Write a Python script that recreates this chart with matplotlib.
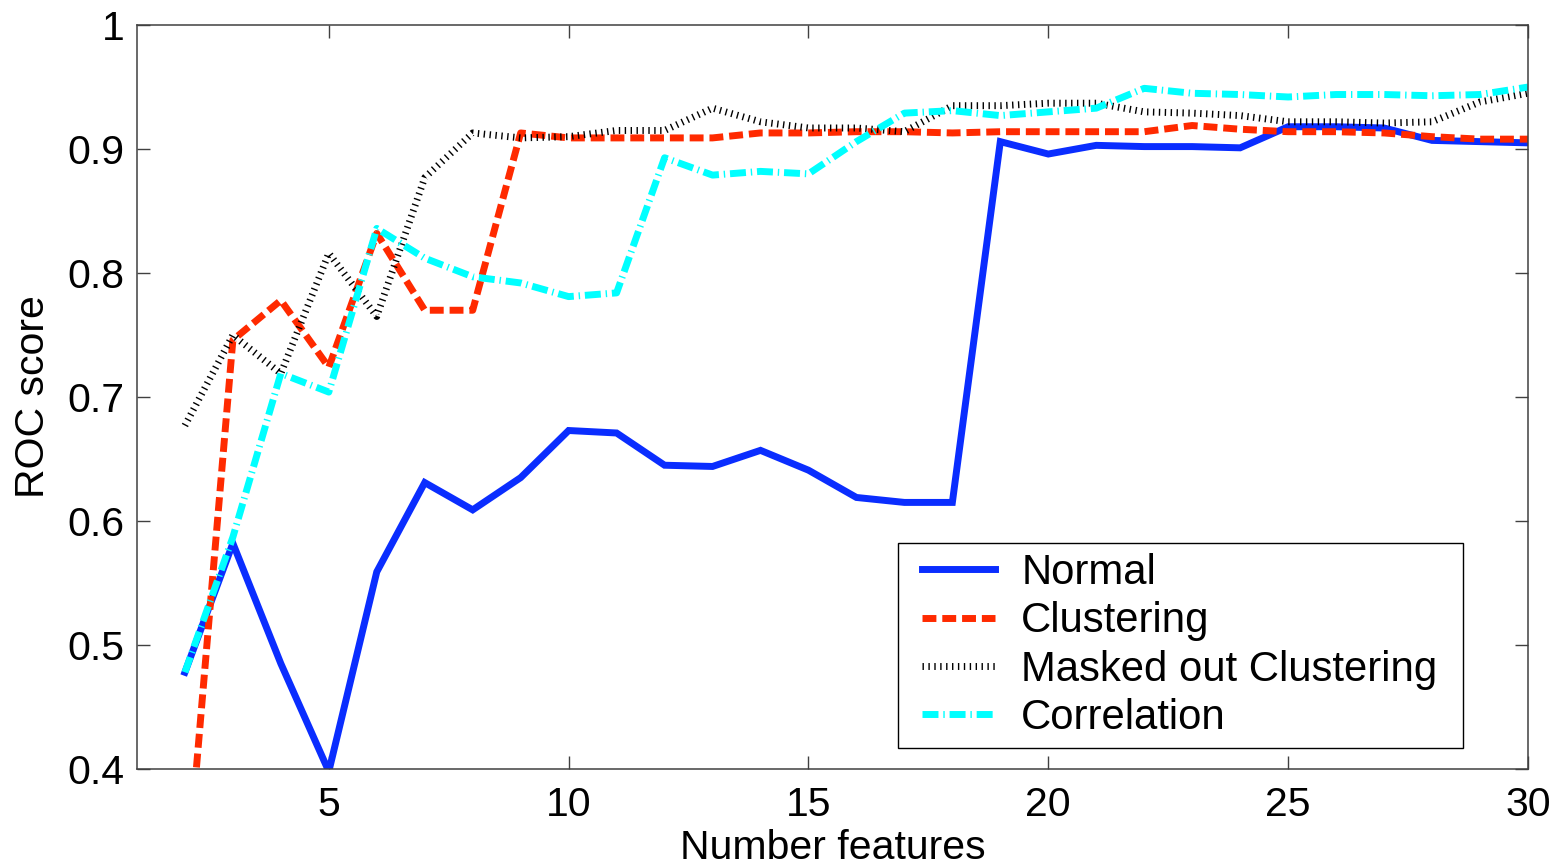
import matplotlib

matplotlib.use("Agg")

import matplotlib.pyplot as plt
from matplotlib.patches import Rectangle
from matplotlib.ticker import FuncFormatter

plt.rcParams["font.family"] = ["Liberation Sans", "DejaVu Sans"]

# ROC score vs. number of features kept, one series per selection method
n_features = list(range(2, 31))

normal = [0.478, 0.582, 0.485, 0.398, 0.559, 0.631, 0.609, 0.635, 0.673, 0.671,
          0.645, 0.644, 0.657, 0.641, 0.619, 0.615, 0.615, 0.906, 0.896, 0.903,
          0.902, 0.902, 0.901, 0.918, 0.918, 0.917, 0.907, 0.906, 0.905]
clustering = [0.292, 0.746, 0.778, 0.724, 0.832, 0.770, 0.770, 0.913, 0.909, 0.909,
              0.909, 0.909, 0.913, 0.913, 0.914, 0.914, 0.913, 0.914, 0.914, 0.914,
              0.914, 0.919, 0.916, 0.914, 0.914, 0.913, 0.910, 0.908, 0.908]
masked = [0.677, 0.750, 0.719, 0.816, 0.765, 0.877, 0.913, 0.909, 0.910, 0.915,
          0.915, 0.933, 0.922, 0.917, 0.917, 0.914, 0.935, 0.935, 0.937, 0.937,
          0.930, 0.929, 0.927, 0.922, 0.922, 0.921, 0.922, 0.938, 0.945]
correlation = [0.478, 0.587, 0.719, 0.704, 0.836, 0.812, 0.797, 0.792, 0.781, 0.784,
               0.893, 0.879, 0.882, 0.880, 0.906, 0.929, 0.931, 0.927, 0.930, 0.933,
               0.949, 0.945, 0.944, 0.942, 0.944, 0.944, 0.943, 0.944, 0.950]

FS = 29.5
LEG_FS = 30.2

fig = plt.figure(figsize=(15.58, 8.65), dpi=100)
ax = fig.add_axes([0.0879, 0.111, 0.8928, 0.860])

lw = 5.0
ax.plot(n_features, normal, color="#0a2dff", lw=lw, solid_joinstyle="miter",
        label="Normal")
ax.plot(n_features, clustering, color="#ff2a00", lw=lw,
        linestyle=(0, (2.0, 0.85)), dash_capstyle="butt", label="Clustering")
ax.plot(n_features, masked, color="black", lw=lw,
        linestyle=(0, (0.2, 0.65)), dash_capstyle="butt",
        label="Masked out Clustering")
ax.plot(n_features, correlation, color="#00ffff", lw=lw,
        linestyle=(0, (2.3, 0.7, 0.2, 0.7)), dash_capstyle="butt",
        label="Correlation")

ax.set_xlim(1, 30)
ax.set_ylim(0.4, 1.0)
ax.set_xticks([5, 10, 15, 20, 25, 30])
ax.set_yticks([0.4, 0.5, 0.6, 0.7, 0.8, 0.9, 1.0])
ax.yaxis.set_major_formatter(FuncFormatter(lambda v, _: f"{v:g}"))

ax.tick_params(direction="in", length=9.5, width=1.0, color="#404040",
               labelsize=FS, top=True, right=True)
ax.tick_params(axis="x", pad=12)
ax.tick_params(axis="y", pad=9)
for sp in ax.spines.values():
    sp.set_color("#404040")
    sp.set_linewidth(1.1)

ax.set_xlabel("Number features", fontsize=FS, labelpad=4)
ax.set_ylabel("ROC score", fontsize=FS, labelpad=11)

# legend box drawn separately so its padding can differ from the entry spacing
box = Rectangle((0.547, 0.028), 0.406, 0.276, transform=ax.transAxes,
                facecolor="white", edgecolor="black", lw=1.0, zorder=4.5)
ax.add_patch(box)
leg = ax.legend(loc="center left", bbox_to_anchor=(0.5643, 0.166),
                borderaxespad=0, borderpad=0, fontsize=LEG_FS,
                handlelength=1.75, handletextpad=0.62, labelspacing=0.2,
                frameon=False)
leg.set_zorder(5)

fig.savefig("out.png", dpi=100)
